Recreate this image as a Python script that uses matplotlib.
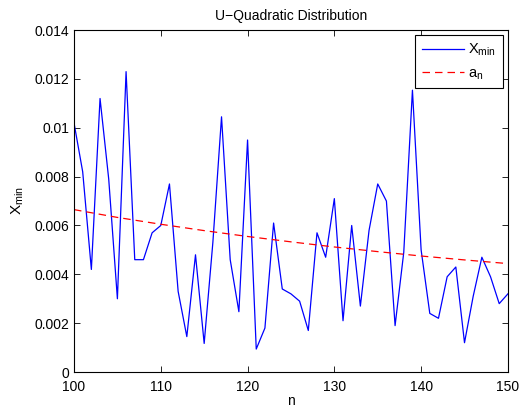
import numpy as np
import matplotlib
matplotlib.use("Agg")
import matplotlib.pyplot as plt
from matplotlib.ticker import FixedLocator, FixedFormatter

n = list(range(100, 151))
x_min = [0.0102, 0.0082, 0.0042, 0.0112, 0.0079, 0.0030, 0.0123, 0.0046, 0.0046, 0.0057,
         0.0060, 0.0077, 0.0033, 0.00145, 0.0048, 0.00117, 0.0053, 0.01045, 0.0046, 0.00247,
         0.0095, 0.00094, 0.0018, 0.0061, 0.0034, 0.0032, 0.0029, 0.0017, 0.0057, 0.0047,
         0.0071, 0.0021, 0.0060, 0.0027, 0.0058, 0.0077, 0.0070, 0.0019, 0.0049, 0.01154,
         0.0050, 0.0024, 0.0022, 0.0039, 0.0043, 0.0012, 0.0031, 0.0047, 0.0039, 0.0028,
         0.0032]
an_n = [100, 105, 110, 115, 120, 125, 130, 135, 140, 145, 150]
an_v = [0.00665, 0.00633, 0.00605, 0.00579, 0.00555, 0.00533, 0.00512, 0.00493, 0.00475, 0.00459, 0.00444]
yticks = [0, 0.002, 0.004, 0.006, 0.008, 0.01, 0.012, 0.014]
ytick_labels = ["0", "0.002", "0.004", "0.006", "0.008", "0.01", "0.012", "0.014"]
xticks = [100, 110, 120, 130, 140, 150]

plt.rcParams['font.family'] = ['Liberation Sans', 'DejaVu Sans']
plt.rcParams['mathtext.fontset'] = 'custom'
plt.rcParams['mathtext.rm'] = 'Liberation Sans'
plt.rcParams['mathtext.it'] = 'Liberation Sans'

fig = plt.figure(figsize=(5.19, 4.08), dpi=100)
ax = fig.add_axes([0.1426, 0.0882, 0.836, 0.838])
ax.plot(n, x_min, color='#0000ff', lw=0.9, label=r'X$_{\mathrm{min}}$')
ax.plot(an_n, an_v, color='#ff0000', lw=0.9, ls=(0, (6, 4)), label=r'a$_{\mathrm{n}}$')
ax.set_xlim(100, 150)
ax.set_ylim(0, 0.014)
ax.yaxis.set_major_locator(FixedLocator(yticks))
ax.yaxis.set_major_formatter(FixedFormatter(ytick_labels))
ax.set_xticks(xticks)
ax.tick_params(direction='in', top=True, right=True, labelsize=10, length=4, width=0.6)
ax.tick_params(axis='x', pad=5.5)
ax.tick_params(axis='y', pad=3.5)
for s in ax.spines.values():
    s.set_linewidth(0.8)
ax.set_xlabel('n', fontsize=10, labelpad=0)
ax.set_ylabel(r'X$_{\mathrm{min}}$', fontsize=11, labelpad=6)
ax.set_title('U\u2212Quadratic Distribution', fontsize=10, pad=7)
leg = ax.legend(loc='upper right', fontsize=10.5, frameon=True, fancybox=False,
                edgecolor='black', framealpha=1, borderpad=0.45, handlelength=2.9,
                handletextpad=0.3, labelspacing=0.55, borderaxespad=0.35)
leg.get_frame().set_linewidth(0.8)
fig.savefig('out.png', dpi=100)
